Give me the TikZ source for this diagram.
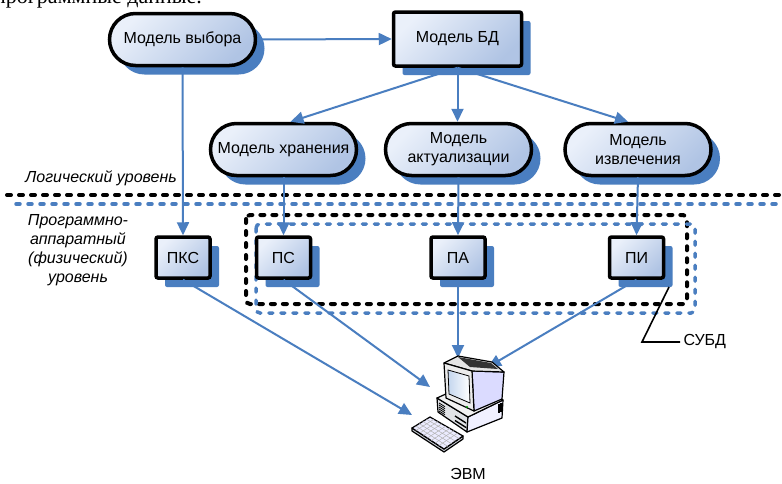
\documentclass[tikz,border=0pt]{standalone}
\usepackage{fontspec}
\setmainfont{Liberation Sans}
\newfontfamily\bodyserif{Liberation Serif}
\usetikzlibrary{calc}
\usetikzlibrary{arrows.meta}
\usetikzlibrary{shapes.misc}
\usetikzlibrary{shadows}

\definecolor{linkblue}{RGB}{74,126,192}
\definecolor{boxlight}{RGB}{234,240,250}
\definecolor{boxdark}{RGB}{176,196,228}
\definecolor{casegray}{RGB}{224,226,230}
\definecolor{sidegray}{RGB}{200,204,212}
\definecolor{screenblue}{RGB}{196,214,238}

\tikzset{
  model/.style={draw=black, line width=3.5pt, top color=boxlight, bottom color=boxdark,
    shading angle=45, drop shadow={shadow xshift=9pt, shadow yshift=-9pt, fill=linkblue, opacity=1},
    font=\fontsize{16}{19}\selectfont, align=center, inner sep=0pt},
  pill/.style={model, rounded rectangle, minimum width=146pt, minimum height=52pt},
  block/.style={model, rectangle, rounded corners=2pt},
  link/.style={draw=linkblue, line width=2pt, -{Triangle[length=13pt,width=12pt]}},
  level/.style={font=\fontsize{16}{19}\selectfont\itshape, align=center},
  sep/.style={line width=4pt, line cap=round, dash pattern=on 4pt off 8pt},
  pcline/.style={draw=black, line width=1.2pt, line join=round},
}

\begin{document}
\begin{tikzpicture}[x=1pt,y=-1pt]
    \fill[white] (0,0) rectangle (782,483);
    \useasboundingbox (0,0) rectangle (782,483);
    \clip (0,0) rectangle (782,483);

    \node[anchor=base west, inner sep=0pt, font=\bodyserif\fontsize{22}{26}\selectfont] (head) at (-6,3) {программные данные.};

    \draw[sep] (7,195) -- (782,195);
    \draw[sep, draw=linkblue, line width=3.5pt] (16,204) -- (782,204);
    \draw[sep, rounded corners=4pt] (246,215) rectangle (687,304);
    \draw[sep, draw=linkblue, line width=3.5pt, rounded corners=4pt] (256,224) rectangle (695,313);

    \node[pill] (vybor) at (182.5,39.5) {Модель выбора};
    \node[block, minimum width=128pt, minimum height=54pt] (bd) at (457.5,39) {Модель БД};
    \node[pill] (hran) at (283.5,149.5) {Модель хранения};
    \node[pill] (aktual) at (458.5,149.5) {Модель\\актуализации};
    \node[pill] (izvl) at (638,149.5) {Модель\\извлечения};

    \node[block, minimum width=54pt, minimum height=41pt] (pks) at (183,257.5) {ПКС};
    \node[block, minimum width=54pt, minimum height=41pt] (ps) at (283.5,257.5) {ПС};
    \node[block, minimum width=54pt, minimum height=41pt] (pa) at (458,257.5) {ПА};
    \node[block, minimum width=54pt, minimum height=41pt] (pi) at (636.5,257.5) {ПИ};

    \node[level, anchor=east, inner sep=0pt] (logic) at (177,178) {Логический уровень};
    \node[level, inner sep=0pt] (phys) at (78,250) {Программно-\\аппаратный\\(физический)\\уровень};

    \coordinate (in-pks) at (412,415);
    \coordinate (in-ps) at (430,387);
    \coordinate (in-pa) at (458,358);
    \coordinate (in-pi) at (488,367);

    \draw[link] (vybor.east) -- (bd.west);
    \draw[link] (vybor.south) -- (pks.north);
    \draw[link] (bd.south) -- ([xshift=7pt]hran.north);
    \draw[link] (bd.south) -- (bd.south |- aktual.north);
    \draw[link] (bd.south) -- ([xshift=-10pt]izvl.north);
    \draw[link] (hran.south) -- (ps.north);
    \draw[link] (aktual.south) -- (pa.north);
    \draw[link] (izvl.south) -- (pi.north);
    \draw[link] (pks.south) -- (in-pks);
    \draw[link] (ps.south) -- (in-ps);
    \draw[link] (pa.south) -- (in-pa);
    \draw[link] (pi.south) -- (in-pi);

    \node[anchor=west, font=\fontsize{16}{19}\selectfont] (subd) at (680,342) {СУБД};
    \coordinate (subd-tip) at (669,287);
    \draw[line width=1.6pt] (subd.west) -- (642,342) -- (subd-tip);

    \filldraw[pcline, fill=casegray] (437,398) -- (468,417) -- (467,432) -- (438,412) -- cycle;
    \filldraw[pcline, fill=white!94!blue] (468,417) -- (503,400) -- (502,418) -- (467,432) -- cycle;
    \filldraw[pcline, fill=white!90!gray] (437,398) -- (470,383) -- (503,400) -- (468,417) -- cycle;
    \foreach \i in {0,...,4}
        \draw[line width=0.8pt] (439,403+2*\i) -- (445,406.7+2*\i);
    \draw[line width=1.4pt] (455,416) -- (466,423);
    \draw[line width=1.4pt] (455,420.5) -- (466,427.5);
    \foreach \i in {0,...,3}
        \draw[line width=0.7pt] (498.5+0.9*\i,404-0.4*\i) -- (498.5+0.9*\i,413-0.4*\i);

    \filldraw[pcline, fill=white!86!blue] (472,371) -- (504,372) -- (502,399) -- (474,411) -- cycle;
    \filldraw[pcline, fill=gray!20] (444,363) -- (458,356) -- (492,362) -- (504,372) -- (472,371) -- cycle;
    \fill[black!80] (458,357) -- (491,363) -- (498,369) -- (470,367) -- cycle;
    \filldraw[pcline, fill=gray!15] (444,363) -- (472,371) -- (474,411) -- (446,398) -- cycle;
    \shade[left color=screenblue, right color=white, draw=black, line width=0.8pt]
        (448,370) -- (469,376) -- (470,403) -- (449,394) -- cycle;
    \fill[green!60!black] (467,407) circle (1.2pt);

    \filldraw[pcline, fill=sidegray] (412,428) -- (412,431) -- (444,452) -- (463,439) -- (463,436) -- (444,449) -- cycle;
    \filldraw[pcline, fill=white!92!blue] (412,428) -- (430,417) -- (463,436) -- (444,449) -- cycle;
    \foreach \t in {0.2,0.4,0.6,0.8}
        \draw[gray!60, line width=0.5pt] ($(412,428)!\t!(430,417)$) -- ($(444,449)!\t!(463,436)$);
    \foreach \t in {0.12,0.24,...,0.9}
        \draw[gray!60, line width=0.5pt] ($(412,428)!\t!(444,449)$) -- ($(430,417)!\t!(463,436)$);

    \node[font=\fontsize{16}{19}\selectfont] (evm) at (468,474) {ЭВМ};
\end{tikzpicture}
\end{document}
